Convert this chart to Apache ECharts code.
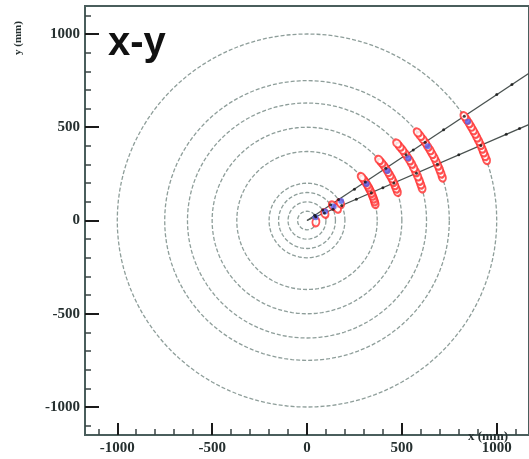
<!DOCTYPE html>
<html>
<head>
<meta charset="utf-8">
<script src="https://cdn.jsdelivr.net/npm/echarts@6/dist/echarts.min.js"></script>
<style>html,body{margin:0;padding:0;background:#fff;}#c{width:529px;height:459px;}</style>
</head>
<body>
<div id="c"></div>
<script>
// ---- data (mm) ----
var majorTicks = [-1000, -500, 0, 500, 1000];
var minorTicks = [-1100,-900,-800,-700,-600,-400,-300,-200,-100,100,200,300,400,600,700,800,900,1100];
var ringRadii = [50, 100, 150, 200, 370, 500, 630, 750, 1000];
var trackUpper = [[0, 0], [1200, 810]];
var trackLower = [[0, 0], [1200, 528]];
var redHits = [
  [946,326],[938,347],[930,367],[922,387],[914,407],[905,427],[895,446],[885,466],[875,485],[864,504],[853,523],[841,541],[829,559],
  [713,232],[706,254],[698,275],[689,296],[680,317],[670,338],[659,358],[648,378],[636,397],[624,417],[611,436],[597,454],[583,472],
  [606,174],[599,195],[592,215],[583,238],[573,261],[562,283],[551,305],[540,324],[528,343],[516,361],[503,379],[489,396],[475,413],
  [476,155],[469,173],[462,191],[454,209],[446,227],[436,244],[426,261],[416,278],[405,294],[393,310],[380,325],
  [359,90],[355,105],[350,120],[344,135],[338,150],[331,165],[324,179],[316,193],[307,207],[298,220],[288,233],
  [47,-8],[94,38],[135,80],[160,65],[176,92]
];
var blueHits = [
  [45,18],[95,48],[140,75],[180,105],
  [314,196],[424,265],[534,334],[636,398],[848,530]
];
var blackHits = [
  [41,28],[83,56],[124,84],[166,112],[307,207],[415,280],[522,352],[622,419],[829,559],
  [46,20],[92,40],[137,60],[183,80],[339,149],[458,201],[577,253],[687,302],[916,402],
  [250,168],[560,378],[720,486],[1000,675],[1080,729],
  [260,114],[400,175],[800,352],[1050,462],[1120,493]
];

// ---- build circle outlines from radii ----
function ring(r) {
  var pts = [];
  for (var a = 0; a <= 360; a += 3) {
    var t = a * Math.PI / 180;
    pts.push([r * Math.cos(t), r * Math.sin(t)]);
  }
  return pts;
}

var series = [];
ringRadii.forEach(function (r) {
  series.push({
    type: 'line', data: ring(r), showSymbol: false, silent: true, z: 1,
    lineStyle: { color: '#8e9e9a', width: 1.3, type: [4, 2] }
  });
});
[trackUpper, trackLower].forEach(function (t) {
  series.push({
    type: 'line', data: t, showSymbol: false, silent: true, z: 2,
    lineStyle: { color: '#4a5250', width: 1.3 }
  });
});
series.push({
  type: 'scatter', data: redHits, symbol: 'emptyCircle', symbolSize: [7, 9], z: 3,
  symbolRotate: function (v) { return Math.atan2(v[1], v[0]) * 180 / Math.PI; },
  itemStyle: { color: '#ff2a2a', borderColor: '#ff2a2a', borderWidth: 1.5 }
});
series.push({
  type: 'scatter', data: blueHits, symbolSize: 6, z: 4,
  itemStyle: { color: '#5060f0' }
});
series.push({
  type: 'scatter', data: blackHits, symbolSize: 3, z: 5,
  itemStyle: { color: '#111' }
});

function fmt(v) { return String(v); }
var labelFont = { fontFamily: 'Liberation Serif', fontWeight: 'bold', fontSize: 15, color: '#263030', formatter: fmt };
var xMin = -1170, xMax = 1170, yMin = -1150, yMax = 1150;

var chart = echarts.init(document.getElementById('c'), null, { renderer: 'canvas' });
chart.setOption({
  animation: false,
  backgroundColor: '#ffffff',
  grid: { left: 85, top: 6, right: -5, bottom: 24, show: true, borderColor: '#4a5e5c', borderWidth: 2, backgroundColor: 'transparent' },
  xAxis: [
    { type: 'value', min: xMin, max: xMax, position: 'bottom',
      axisLine: { onZero: false, lineStyle: { color: '#4a5e5c', width: 2 } },
      axisTick: { inside: true, length: 12, customValues: majorTicks, lineStyle: { color: '#1a1a1a', width: 2 } },
      axisLabel: Object.assign({ customValues: majorTicks, margin: 6 }, labelFont),
      splitLine: { show: false } },
    { type: 'value', min: xMin, max: xMax, position: 'bottom',
      axisLine: { show: false, onZero: false },
      axisTick: { inside: true, length: 6, customValues: minorTicks, lineStyle: { color: '#3a4444', width: 1.5 } },
      axisLabel: { show: false }, splitLine: { show: false } }
  ],
  yAxis: [
    { type: 'value', min: yMin, max: yMax, position: 'left',
      axisLine: { onZero: false, lineStyle: { color: '#4a5e5c', width: 2 } },
      axisTick: { inside: true, length: 14, customValues: majorTicks, lineStyle: { color: '#1a1a1a', width: 2 } },
      axisLabel: Object.assign({ customValues: majorTicks, margin: 5 }, labelFont),
      splitLine: { show: false } },
    { type: 'value', min: yMin, max: yMax, position: 'left',
      axisLine: { show: false, onZero: false },
      axisTick: { inside: true, length: 6, customValues: minorTicks, lineStyle: { color: '#3a4444', width: 1.5 } },
      axisLabel: { show: false }, splitLine: { show: false } }
  ],
  series: series,
  graphic: [
    { type: 'text', left: 108, top: 24, z: 10,
      style: { text: 'x-y', font: 'bold 40px "Liberation Sans"', fill: '#111' } },
    { type: 'text', x: 18, y: 38, rotation: Math.PI / 2, z: 10,
      style: { text: 'y (mm)', font: 'bold 11px "Liberation Serif"', fill: '#263030', align: 'center', verticalAlign: 'middle' } },
    { type: 'text', x: 468, y: 437, z: 10,
      style: { text: 'x (mm)', font: 'bold 13px "Liberation Serif"', fill: '#263030', align: 'left', verticalAlign: 'middle' } }
  ]
});
</script>
</body>
</html>
